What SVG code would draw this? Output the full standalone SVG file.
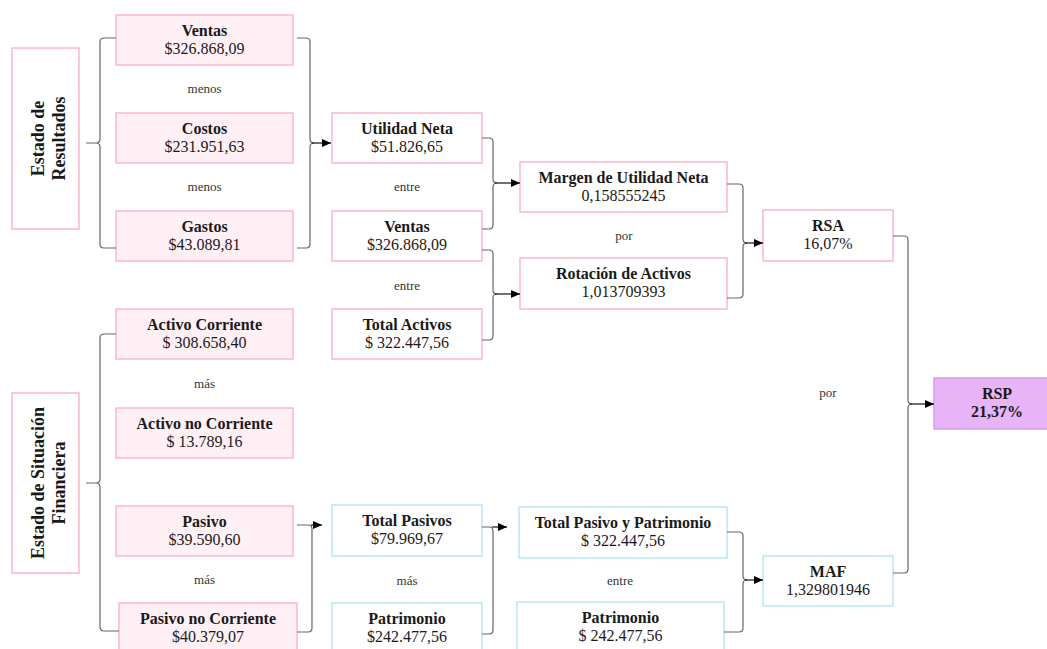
<svg xmlns="http://www.w3.org/2000/svg" width="1047" height="649" viewBox="0 0 1047 649">
<style>
.pk{fill:#FFF0F5;stroke:#FFB6CC;stroke-width:1.5}
.wp{fill:#FFFFFF;stroke:#FFB6CC;stroke-width:1.5}
.bl{fill:#FFFFFF;stroke:#B8E6F8;stroke-width:1.5}
.rsp{fill:#E8B4F8;stroke:#D99CEE;stroke-width:1.5}
text{font-family:"Liberation Serif","Times New Roman",serif;fill:#1a1a1a;text-anchor:middle}
.t{font-size:16px;font-weight:bold}
.v{font-size:16px}
.s{font-size:13px;fill:#333}
.vt{font-size:18px;font-weight:bold}
.c{fill:none;stroke:#666;stroke-width:1.2}
.a{fill:none;stroke:#111;stroke-width:1.2}
</style>
<defs>
<marker id="ah" markerWidth="10" markerHeight="10" refX="9" refY="5" orient="auto" markerUnits="userSpaceOnUse">
<path d="M0,1 L9,5 L0,9 Z" fill="#000"/>
</marker>
</defs>

<g id="estado-resultados">
<rect class="wp" x="12" y="48" width="67" height="181"/>
<g transform="translate(45.5,138.5) rotate(-90)"><text class="vt" x="0" y="-2">Estado de</text><text class="vt" x="0" y="19">Resultados</text></g>
</g>
<g id="estado-situacion">
<rect class="wp" x="12" y="393" width="67" height="180"/>
<g transform="translate(45.5,483) rotate(-90)"><text class="vt" x="0" y="-2">Estado de Situación</text><text class="vt" x="0" y="19">Financiera</text></g>
</g>

<g id="ventas"><rect class="pk" x="116" y="15" width="177" height="50"/><text class="t" x="204.5" y="36">Ventas</text><text class="v" x="204.5" y="54">$326.868,09</text></g>
<text class="s" x="204.5" y="93">menos</text>
<g id="costos"><rect class="pk" x="116" y="113" width="177" height="50"/><text class="t" x="204.5" y="134">Costos</text><text class="v" x="204.5" y="152">$231.951,63</text></g>
<text class="s" x="204.5" y="191">menos</text>
<g id="gastos"><rect class="pk" x="116" y="211" width="177" height="50"/><text class="t" x="204.5" y="232">Gastos</text><text class="v" x="204.5" y="250">$43.089,81</text></g>

<g id="activo-corriente"><rect class="pk" x="116" y="309" width="177" height="50"/><text class="t" x="204.5" y="330">Activo Corriente</text><text class="v" x="204.5" y="348">$ 308.658,40</text></g>
<text class="s" x="204.5" y="388">más</text>
<g id="activo-no-corriente"><rect class="pk" x="116" y="408" width="177" height="50"/><text class="t" x="204.5" y="429">Activo no Corriente</text><text class="v" x="204.5" y="447">$ 13.789,16</text></g>
<g id="pasivo"><rect class="pk" x="116" y="506" width="177" height="50"/><text class="t" x="204.5" y="527">Pasivo</text><text class="v" x="204.5" y="545">$39.590,60</text></g>
<text class="s" x="204.5" y="584">más</text>
<g id="pasivo-no-corriente"><rect class="pk" x="119" y="603" width="178" height="52"/><text class="t" x="208" y="624">Pasivo no Corriente</text><text class="v" x="208" y="642">$40.379,07</text></g>

<g id="utilidad-neta"><rect class="wp" x="332" y="113" width="150" height="50"/><text class="t" x="407" y="134">Utilidad Neta</text><text class="v" x="407" y="152">$51.826,65</text></g>
<text class="s" x="407" y="191">entre</text>
<g id="ventas-2"><rect class="wp" x="332" y="211" width="150" height="50"/><text class="t" x="407" y="232">Ventas</text><text class="v" x="407" y="250">$326.868,09</text></g>
<text class="s" x="407" y="290">entre</text>
<g id="total-activos"><rect class="wp" x="332" y="309" width="150" height="50"/><text class="t" x="407" y="330">Total Activos</text><text class="v" x="407" y="348">$ 322.447,56</text></g>

<g id="total-pasivos"><rect class="bl" x="332" y="505" width="150" height="51"/><text class="t" x="407" y="526">Total Pasivos</text><text class="v" x="407" y="544">$79.969,67</text></g>
<text class="s" x="407" y="585">más</text>
<g id="patrimonio"><rect class="bl" x="332" y="603" width="150" height="52"/><text class="t" x="407" y="624">Patrimonio</text><text class="v" x="407" y="642">$242.477,56</text></g>

<g id="margen"><rect class="wp" x="520" y="162" width="207" height="50"/><text class="t" x="623.5" y="183">Margen de Utilidad Neta</text><text class="v" x="623.5" y="201">0,158555245</text></g>
<text class="s" x="624" y="240">por</text>
<g id="rotacion"><rect class="wp" x="520" y="258" width="207" height="51"/><text class="t" x="623.5" y="279">Rotación de Activos</text><text class="v" x="623.5" y="297">1,013709393</text></g>

<g id="total-pasivo-patrimonio"><rect class="bl" x="519" y="507" width="208" height="51"/><text class="t" x="623" y="528">Total Pasivo y Patrimonio</text><text class="v" x="623" y="546">$ 322.447,56</text></g>
<text class="s" x="620" y="585">entre</text>
<g id="patrimonio-2"><rect class="bl" x="517" y="602" width="207" height="53"/><text class="t" x="620.5" y="623">Patrimonio</text><text class="v" x="620.5" y="641">$ 242.477,56</text></g>

<g id="rsa"><rect class="wp" x="763" y="210" width="130" height="51"/><text class="t" x="828" y="231">RSA</text><text class="v" x="828" y="249">16,07%</text></g>
<text class="s" x="828" y="397">por</text>
<g id="maf"><rect class="bl" x="763" y="556" width="130" height="50"/><text class="t" x="828" y="577">MAF</text><text class="v" x="828" y="595">1,329801946</text></g>

<g id="rsp"><rect class="rsp" x="934" y="378" width="126" height="51"/><text class="t" x="997" y="399">RSP</text><text class="t" x="997" y="417">21,37%</text></g>

<g id="connectors">
<path class="c" d="M116,38 H104 Q100,38 100,42 V139 Q100,143 96,143 H86 M96,143 Q100,143 100,147 V244 Q100,248 104,248 H116"/>
<path class="c" d="M297,38 H306 Q310,38 310,42 V139 Q310,143 314,143 M314,143 Q310,143 310,147 V244 Q310,248 306,248 H297"/>
<path class="a" d="M312,143 H331" marker-end="url(#ah)"/>

<path class="c" d="M116,334 H104 Q100,334 100,338 V479 Q100,483 96,483 H86 M96,483 Q100,483 100,487 V627 Q100,631 104,631 H119"/>

<path class="c" d="M482,138 H489 Q493,138 493,142 V179 Q493,183 497,183 M497,183 Q493,183 493,187 V225 Q493,229 489,229 H482"/>
<path class="a" d="M495,183 H520" marker-end="url(#ah)"/>
<path class="c" d="M482,250 H489 Q493,250 493,254 V290 Q493,294 497,294 M497,294 Q493,294 493,298 V336 Q493,340 489,340 H482"/>
<path class="a" d="M495,294 H520" marker-end="url(#ah)"/>

<path class="c" d="M727,184 H739 Q743,184 743,188 V239 Q743,243 747,243 M747,243 Q743,243 743,247 V294 Q743,298 739,298 H727"/>
<path class="a" d="M745,243 H763" marker-end="url(#ah)"/>

<path class="c" d="M893,236 H904 Q908,236 908,240 V400 Q908,404 912,404 M912,404 Q908,404 908,408 V569 Q908,573 904,573 H893"/>
<path class="a" d="M910,404 H934" marker-end="url(#ah)"/>

<path class="c" d="M297,525 H308 Q312,525 312,529 V628 Q312,632 308,632 H297"/>
<path class="a" d="M311,525 H322" marker-end="url(#ah)"/>

<path class="c" d="M482,527 H489 Q493,527 493,531 V630 Q493,634 489,634 H482"/>
<path class="a" d="M492,527 H507" marker-end="url(#ah)"/>

<path class="c" d="M727,532 H739 Q743,532 743,536 V576 Q743,580 747,580 M747,580 Q743,580 743,584 V628 Q743,632 739,632 H724"/>
<path class="a" d="M745,580 H763" marker-end="url(#ah)"/>
</g>
</svg>
